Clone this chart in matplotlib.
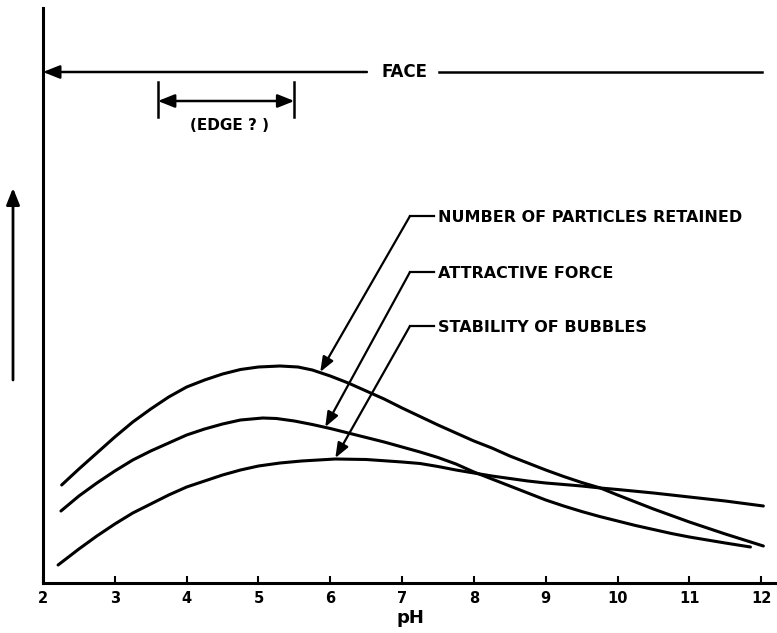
import matplotlib
matplotlib.use("Agg")
import matplotlib.pyplot as plt

# curves (pH, relative height)
ph_particles = [2.26, 2.5, 2.75, 3.0, 3.25, 3.5, 3.75, 4.0, 4.25, 4.5, 4.75, 5.0, 5.3, 5.55, 5.75,
                6.0, 6.25, 6.5, 6.75, 7.0, 7.25, 7.5, 7.75, 8.0, 8.25, 8.5, 8.75, 9.0, 9.25, 9.5,
                9.76, 10.0, 10.5, 11.0, 11.5, 12.03]
y_particles = [98, 114, 130, 146, 161, 174, 186, 196, 203, 209, 213.5, 216, 217, 216, 213,
               207, 200, 192, 184, 175, 166.5, 158, 150, 142, 135, 127, 120, 113, 106.5, 100.5,
               95, 88, 74, 61, 49, 37]

ph_force = [2.25, 2.5, 2.75, 3.0, 3.25, 3.5, 3.75, 4.0, 4.25, 4.5, 4.75, 5.06, 5.25, 5.5, 5.75,
            6.0, 6.25, 6.5, 6.75, 7.0, 7.25, 7.5, 7.75, 8.0, 8.25, 8.5, 8.75, 9.0, 9.25, 9.5,
            9.75, 10.0, 10.25, 10.5, 10.75, 11.0, 11.25, 11.5, 11.85]
y_force = [72, 87, 100, 112, 123, 132, 140, 148, 154, 159, 163, 165, 164.5, 162, 158.5,
           154.5, 150, 145.5, 141, 136, 131, 125.5, 119, 111, 104, 97, 90, 83, 77, 71.5,
           66.5, 62, 57.5, 53.5, 49.5, 46, 43, 40, 36]

ph_bubbles = [2.21, 2.5, 2.75, 3.0, 3.25, 3.5, 3.75, 4.0, 4.25, 4.5, 4.75, 5.0, 5.3, 5.6, 6.07,
              6.5, 7.0, 7.25, 7.5, 7.75, 8.0, 8.25, 8.5, 8.75, 9.0, 9.25, 9.5, 9.76, 10.0, 10.5,
              11.0, 11.5, 12.03]
y_bubbles = [18, 34, 47, 59, 70, 79, 88, 96, 102, 108, 113, 117, 120, 122, 124,
             123.5, 121, 119.5, 116.5, 113, 110, 107, 104.5, 102, 100, 98.5, 97, 95, 93.5, 90,
             86, 82, 77]

labels = ["NUMBER OF PARTICLES RETAINED", "ATTRACTIVE FORCE", "STABILITY OF BUBBLES"]
ticks = list(range(2, 13))
tick_labels = [str(t) for t in ticks]

fig = plt.figure(figsize=(7.77, 6.33), dpi=100)
ax = fig.add_axes([43 / 777, 50 / 633, 734 / 777, 575 / 633])
ax.set_xlim(2, 12.22)
ax.set_ylim(0, 575)

lw = 2.2
for xs, ys in [(ph_particles, y_particles), (ph_force, y_force), (ph_bubbles, y_bubbles)]:
    ax.plot(xs, ys, color='black', lw=lw, solid_capstyle='round', solid_joinstyle='round')

for s in ['top', 'right']:
    ax.spines[s].set_visible(False)
for s in ['left', 'bottom']:
    ax.spines[s].set_linewidth(2.2)

ax.set_xticks(ticks)
ax.set_xticklabels(tick_labels, fontsize=10.5, fontweight='bold')
ax.set_yticks([])
ax.tick_params(axis='x', direction='in', length=5, width=1.5, pad=6)
ax.set_xlabel('pH', fontsize=13, fontweight='bold', labelpad=2)

# leader lines to the curves
corners = [(7.11, 367), (7.11, 311), (7.11, 257)]
tips = [(5.86, 211), (5.93, 156), (6.07, 125)]
for lab, (cx, cy), tip in zip(labels, corners, tips):
    ax.plot([cx, cx + 0.33], [cy, cy], color='black', lw=1.6)
    ax.annotate('', xy=tip, xytext=(cx, cy),
                arrowprops=dict(arrowstyle='-|>,head_length=0.9,head_width=0.35',
                                color='black', lw=1.6, shrinkA=0, shrinkB=0))
    ax.text(cx + 0.39, cy - 1, lab, fontsize=11.5, fontweight='bold', va='center', ha='left')

# FACE range
ax.annotate('', xy=(2.0, 511), xytext=(6.51, 511),
            arrowprops=dict(arrowstyle='-|>,head_length=1.0,head_width=0.4',
                            color='black', lw=1.8, shrinkA=0, shrinkB=0))
ax.plot([7.52, 12.01], [511, 511], color='black', lw=1.8)
ax.text(7.04, 511, 'FACE', fontsize=12, fontweight='bold', ha='center', va='center')

# EDGE range
ax.annotate('', xy=(3.6, 482), xytext=(5.5, 482),
            arrowprops=dict(arrowstyle='<|-|>,head_length=1.0,head_width=0.4',
                            color='black', lw=1.8, shrinkA=0, shrinkB=0))
for xb in [3.6, 5.5]:
    ax.plot([xb, xb], [466, 501], color='black', lw=1.8)
ax.text(4.6, 457, '(EDGE ? )', fontsize=11, fontweight='bold', ha='center', va='center')

# upward arrow for the y axis
ax.annotate('', xy=(-30 / 734, 395), xytext=(-30 / 734, 203),
            xycoords=ax.get_yaxis_transform(), textcoords=ax.get_yaxis_transform(),
            arrowprops=dict(arrowstyle='-|>,head_length=1.0,head_width=0.4',
                            color='black', lw=2.0, shrinkA=0, shrinkB=0),
            annotation_clip=False)

fig.savefig('out.png', dpi=100)
